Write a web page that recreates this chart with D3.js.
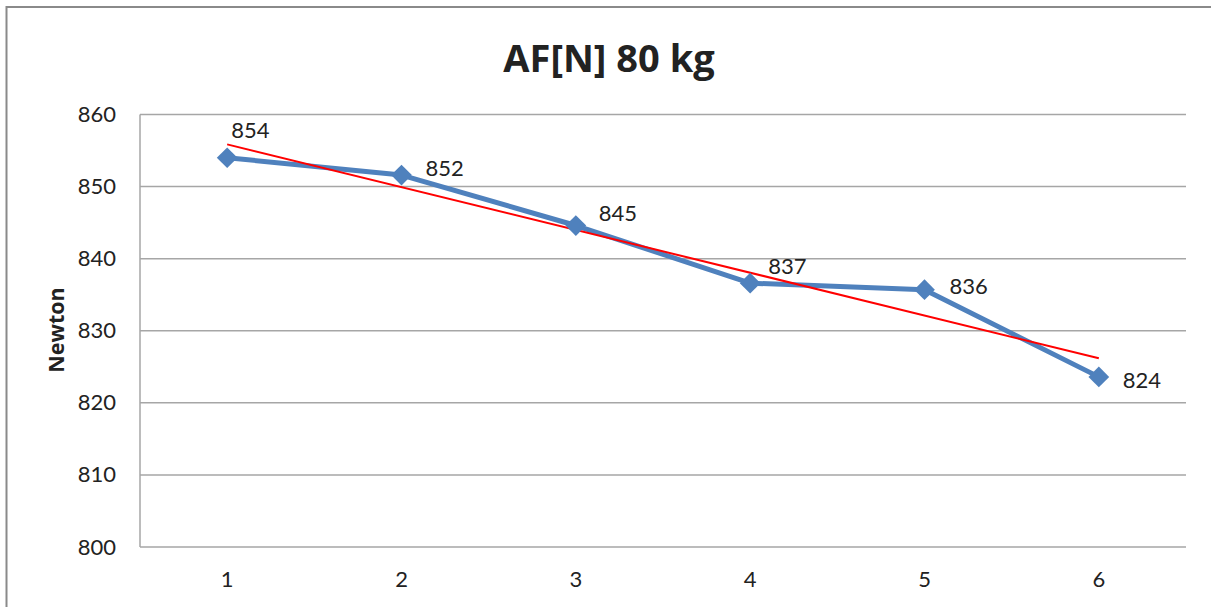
<!DOCTYPE html>
<html>
<head>
<meta charset="utf-8">
<script src="https://cdn.jsdelivr.net/npm/d3@7"></script>
<style>
  body { margin: 0; background: #fff; }
  text { font-family: Lato, "Open Sans", sans-serif; fill: #222; }
</style>
</head>
<body>
<div id="chart"></div>
<script>
// data
var categories = [1, 2, 3, 4, 5, 6];
var newton = [854.0, 851.6, 844.6, 836.6, 835.7, 823.6];
var yTicks = [800, 810, 820, 830, 840, 850, 860];
var title = 'AF[N] 80 kg';
var yLabel = 'Newton';

// label nudges (px) to sit where they are in the original
var labelOffsets = [[4, -27], [24, -7], [23, -12], [18, -17], [25, -3], [24, 3]];

var width = 1211;
var height = 607;
var margin = { top: 114.5, bottom: 60, left: 140, right: 25 };

var svg = d3.select('#chart')
            .append('svg')
            .attr('width', width)
            .attr('height', height);

// outer chart frame
svg.append('rect')
   .attr('x', 6.5).attr('y', 7)
   .attr('width', 1215).attr('height', 620)
   .attr('fill', 'none')
   .attr('stroke', '#8a8a8a')
   .attr('stroke-width', 2);

var xScale = d3.scaleBand()
               .domain(categories)
               .range([margin.left, width - margin.right])
               .padding(0);

var yScale = d3.scaleLinear()
               .domain([800, 860])
               .range([547, margin.top]);

// gridlines
svg.append('g')
   .selectAll('line')
   .data(yTicks)
   .join('line')
   .attr('x1', margin.left)
   .attr('x2', width - margin.right)
   .attr('y1', function(d){ return yScale(d); })
   .attr('y2', function(d){ return yScale(d); })
   .attr('stroke', '#a6a6a6')
   .attr('stroke-width', 1.5);

// left axis line
svg.append('line')
   .attr('x1', margin.left).attr('x2', margin.left)
   .attr('y1', yScale(860)).attr('y2', yScale(800))
   .attr('stroke', '#a6a6a6')
   .attr('stroke-width', 1.5);

var yAxis = d3.axisLeft(yScale).tickValues(yTicks).tickSize(0).tickPadding(24);
svg.append('g')
   .attr('transform', 'translate(' + margin.left + ',0)')
   .call(yAxis)
   .call(function(g){ g.select('.domain').remove(); })
   .selectAll('text')
   .style('font-size', '22px')
   .style('font-family', 'Lato, sans-serif')
   .attr('fill', '#222');

var xAxis = d3.axisBottom(xScale).tickSize(0).tickPadding(24);
svg.append('g')
   .attr('transform', 'translate(0,' + yScale(800) + ')')
   .call(xAxis)
   .call(function(g){ g.select('.domain').remove(); })
   .selectAll('text')
   .style('font-size', '22px')
   .style('font-family', 'Lato, sans-serif')
   .attr('fill', '#222');

function cx(i){ return xScale(categories[i]) + xScale.bandwidth() / 2; }

// linear trend line (least squares over the points)
var xm = d3.mean(categories), ym = d3.mean(newton);
var slope = d3.sum(categories, function(c, i){ return (c - xm) * (newton[i] - ym); }) /
            d3.sum(categories, function(c){ return (c - xm) * (c - xm); });
var trend = function(c){ return ym + slope * (c - xm); };

var line = d3.line()
             .x(function(d, i){ return cx(i); })
             .y(function(d){ return yScale(d); });

svg.append('path')
   .datum(newton)
   .attr('d', line)
   .attr('fill', 'none')
   .attr('stroke', '#4f81bd')
   .attr('stroke-width', 5)
   .attr('stroke-linejoin', 'round');

svg.append('line')
   .attr('x1', cx(0)).attr('y1', yScale(trend(categories[0])))
   .attr('x2', cx(categories.length - 1)).attr('y2', yScale(trend(categories[categories.length - 1])))
   .attr('stroke', '#ff0000')
   .attr('stroke-width', 2);

svg.append('g')
   .selectAll('path')
   .data(newton)
   .join('path')
   .attr('d', d3.symbol().type(d3.symbolSquare).size(215))
   .attr('transform', function(d, i){ return 'translate(' + cx(i) + ',' + yScale(d) + ') rotate(45)'; })
   .attr('fill', '#4f81bd');

svg.append('g')
   .selectAll('text')
   .data(newton)
   .join('text')
   .attr('x', function(d, i){ return cx(i) + labelOffsets[i][0]; })
   .attr('y', function(d, i){ return yScale(d) + labelOffsets[i][1]; })
   .attr('dy', '0.35em')
   .style('font-size', '22px')
   .text(function(d){ return d3.format('.0f')(d); });

svg.append('text')
   .attr('x', 609).attr('y', 72)
   .attr('text-anchor', 'middle')
   .style('font-family', '"Open Sans", sans-serif')
   .style('font-size', '38px')
   .style('font-weight', 'bold')
   .text(title);

svg.append('text')
   .attr('transform', 'translate(64,' + 330 + ') rotate(-90)')
   .attr('text-anchor', 'middle')
   .style('font-family', '"Open Sans", sans-serif')
   .style('font-size', '21.5px')
   .style('font-weight', 'bold')
   .text(yLabel);
</script>
</body>
</html>
